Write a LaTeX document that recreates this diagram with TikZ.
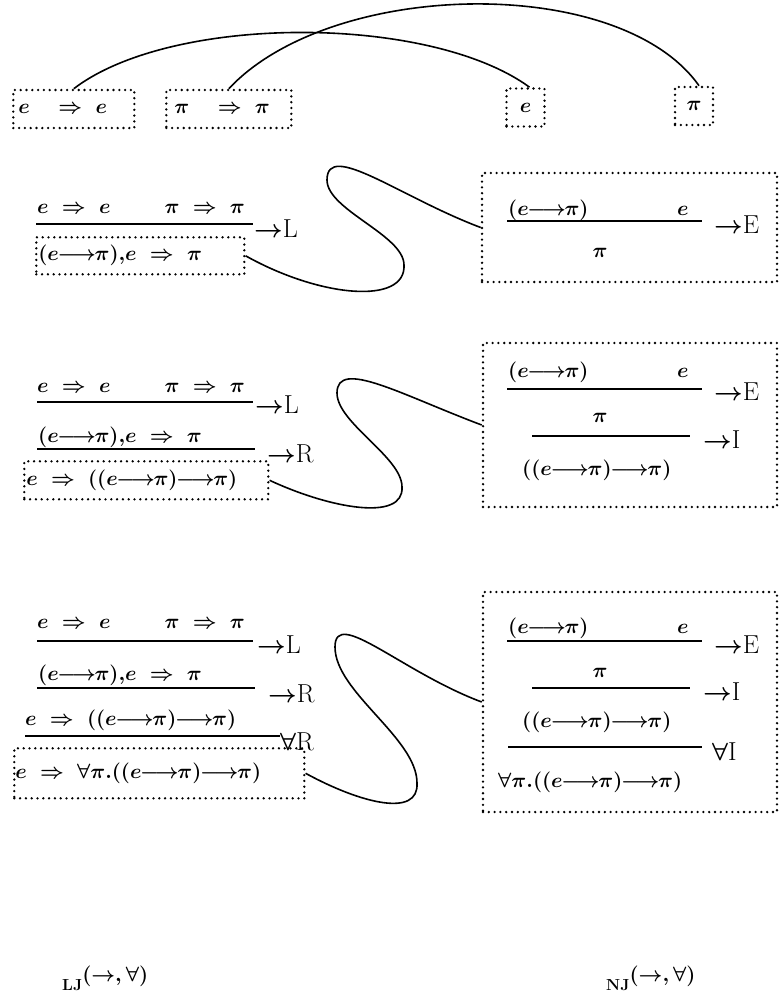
\documentclass[tikz,border=0pt]{standalone}
\usepackage{amsmath,amssymb}
\usepackage{tikz}
\usetikzlibrary{positioning}

\newcommand{\bpi}{\pi}
\newcommand{\seqto}{\;\Rightarrow\;}
\newcommand{\axto}{\quad\Rightarrow\;}
\newcommand{\imp}{\mathord{\mkern-1mu\longrightarrow\mkern-1mu}}

\begin{document}
\begin{tikzpicture}[x=1pt, y=-1pt,
    formula/.style={inner sep=0pt, font=\fontsize{22}{26}\selectfont\boldmath},
    rulename/.style={inner sep=0pt, font=\fontsize{26}{30}\selectfont\boldmath},
    dotbox/.style={draw, line width=2.6pt, line cap=round, dash pattern=on 0pt off 5.8pt},
    infer/.style={line width=2pt},
    link/.style={line width=1.6pt}]

    \useasboundingbox (0,0) rectangle (779,1001);

    % --- Top row: axioms and assumptions ---
    \node[dotbox, formula, anchor=west, minimum height=38pt, text width=111pt, inner xsep=5pt, align=left] (ee) at (12,109) {$e \axto e$};
    \node[dotbox, formula, anchor=west, minimum height=38pt, text width=109pt, inner xsep=8pt, align=left] (pp) at (165,109) {$\bpi \axto \bpi$};
    \node[dotbox, formula, minimum size=38pt] (ea) at (525.5,107.5) {$e$};
    \node[dotbox, formula, minimum size=38pt] (pa) at (694,106) {$\bpi$};

    \draw[link] (ee.north) .. controls +(98,-75) and +(-100,-73) .. ([xshift=4pt]ea.north);
    \draw[link] (pp.north) .. controls +(103,-110) and +(-79,-112) .. ([xshift=5pt]pa.north);

    % --- Step 1: ->L against ->E ---
    \node[formula, anchor=base west] (s1a) at (37,213) {$e \seqto e$};
    \node[formula, anchor=base east] (s1b) at (245,213) {$\bpi \seqto \bpi$};
    \draw[infer] (36,224) -- (253,224);
    \node[rulename, anchor=base west] (s1l) at (254,237) {$\rightarrow$L};
    \node[dotbox, formula, anchor=north west, minimum width=208pt, minimum height=37pt, text width=204pt, inner xsep=2pt, align=left] (c1) at (35,236) {$(e\imp\bpi){,}e \seqto \bpi$};

    \node[dotbox, minimum width=295pt, minimum height=109pt] (nd1) at (629.5,227.5) {};
    \node[formula, anchor=base west] (n1a) at (508,215) {$(e\imp\bpi)$};
    \node[formula, anchor=base west] (n1b) at (677,215) {$e$};
    \draw[infer] (507,221) -- (702,221);
    \node[rulename, anchor=base west] (n1e) at (714,233) {$\rightarrow$E};
    \node[formula, anchor=base] (n1c) at (600,257) {$\bpi$};

    \coordinate (t1) at (404,265);
    \coordinate (u1) at (327,180);
    \draw[link] (c1.east) .. controls +(75,42) and +(2,40) .. (t1)
        .. controls +(0,-30) and +(0,30) .. (u1)
        .. controls +(0,-40) and +(-80,-30) .. (nd1.west);

    % --- Step 2: ->R against ->I ---
    \node[formula, anchor=base west] (s2a) at (37,392) {$e \seqto e$};
    \node[formula, anchor=base east] (s2b) at (245,392) {$\bpi \seqto \bpi$};
    \draw[infer] (37,402) -- (253,402);
    \node[rulename, anchor=base west] (s2l) at (255,413) {$\rightarrow$L};
    \node[formula, anchor=base west] (s2c) at (38,442) {$(e\imp\bpi){,}e \seqto \bpi$};
    \draw[infer] (37,449) -- (255,449);
    \node[rulename, anchor=base west] (s2r) at (267,462) {$\rightarrow$R};
    \node[dotbox, formula, anchor=north west, minimum width=244pt, minimum height=38pt, text width=240pt, inner xsep=2pt, align=left] (c2) at (23,460) {$e \seqto ((e\imp\bpi)\imp\bpi)$};

    \node[dotbox, minimum width=294pt, minimum height=164pt] (nd2) at (630,425) {};
    \node[formula, anchor=base west] (n2a) at (508,377) {$(e\imp\bpi)$};
    \node[formula, anchor=base west] (n2b) at (677,377) {$e$};
    \draw[infer] (507,389) -- (702,389);
    \node[rulename, anchor=base west] (n2e) at (714,400) {$\rightarrow$E};
    \node[formula, anchor=base] (n2c) at (600,422) {$\bpi$};
    \draw[infer] (532,436) -- (690,436);
    \node[rulename, anchor=base west] (n2i) at (703,448) {$\rightarrow$I};
    \node[formula, anchor=base west] (n2d) at (522,475) {$((e\imp\bpi)\imp\bpi)$};

    \coordinate (t2) at (402,487);
    \coordinate (u2) at (337,393);
    \draw[link] (c2.east) .. controls +(60,28) and +(2,35) .. (t2)
        .. controls +(0,-30) and +(0,30) .. (u2)
        .. controls +(0,-35) and +(-80,-30) .. (nd2.west);

    % --- Step 3: forall R against forall I ---
    \node[formula, anchor=base west] (s3a) at (37,628) {$e \seqto e$};
    \node[formula, anchor=base east] (s3b) at (245,628) {$\bpi \seqto \bpi$};
    \draw[infer] (37,641) -- (253,641);
    \node[rulename, anchor=base west] (s3l) at (257,653) {$\rightarrow$L};
    \node[formula, anchor=base west] (s3c) at (38,680) {$(e\imp\bpi){,}e \seqto \bpi$};
    \draw[infer] (37,688) -- (255,688);
    \node[rulename, anchor=base west] (s3r) at (268,702) {$\rightarrow$R};
    \node[formula, anchor=base west] (s3d) at (25,725) {$e \seqto ((e\imp\bpi)\imp\bpi)$};
    \draw[infer] (25,736) -- (280,736);
    \node[rulename, anchor=base west] (s3f) at (280,750) {$\forall$R};
    \node[dotbox, formula, anchor=north west, minimum width=290pt, minimum height=50pt, text width=288pt, inner xsep=1pt, align=left] (c3) at (13,747) {$e \seqto \forall\bpi.((e\imp\bpi)\imp\bpi)$};

    \node[dotbox, minimum width=294pt, minimum height=220pt] (nd3) at (630,702) {};
    \node[formula, anchor=base west] (n3a) at (508,633) {$(e\imp\bpi)$};
    \node[formula, anchor=base west] (n3b) at (677,633) {$e$};
    \draw[infer] (507,641) -- (702,641);
    \node[rulename, anchor=base west] (n3e) at (714,653) {$\rightarrow$E};
    \node[formula, anchor=base] (n3c) at (600,677) {$\bpi$};
    \draw[infer] (532,688) -- (690,688);
    \node[rulename, anchor=base west] (n3i) at (703,700) {$\rightarrow$I};
    \node[formula, anchor=base west] (n3d) at (522,727) {$((e\imp\bpi)\imp\bpi)$};
    \draw[infer] (508,747) -- (702,747);
    \node[rulename, anchor=base west] (n3f) at (712,760) {$\forall$I};
    \node[formula, anchor=base west] (n3g) at (498,787) {$\forall\bpi.((e\imp\bpi)\imp\bpi)$};

    \coordinate (t3) at (417,783);
    \coordinate (u3) at (335,647);
    \draw[link] (c3.east) .. controls +(55,30) and +(2,35) .. (t3)
        .. controls +(0,-45) and +(0,45) .. (u3)
        .. controls +(0,-40) and +(-80,-30) .. (nd3.west);

    % --- System names ---
    \node[anchor=base west, inner sep=0pt] (lj) at (62,990) {{\fontsize{16}{18}\selectfont\bfseries LJ}\raisebox{9pt}{\fontsize{20}{24}\selectfont\boldmath$(\rightarrow,\forall)$}};
    \node[anchor=base west, inner sep=0pt] (nj) at (606,990) {{\fontsize{16}{18}\selectfont\bfseries NJ}\raisebox{9pt}{\fontsize{20}{24}\selectfont\boldmath$(\rightarrow,\forall)$}};

\end{tikzpicture}
\end{document}
